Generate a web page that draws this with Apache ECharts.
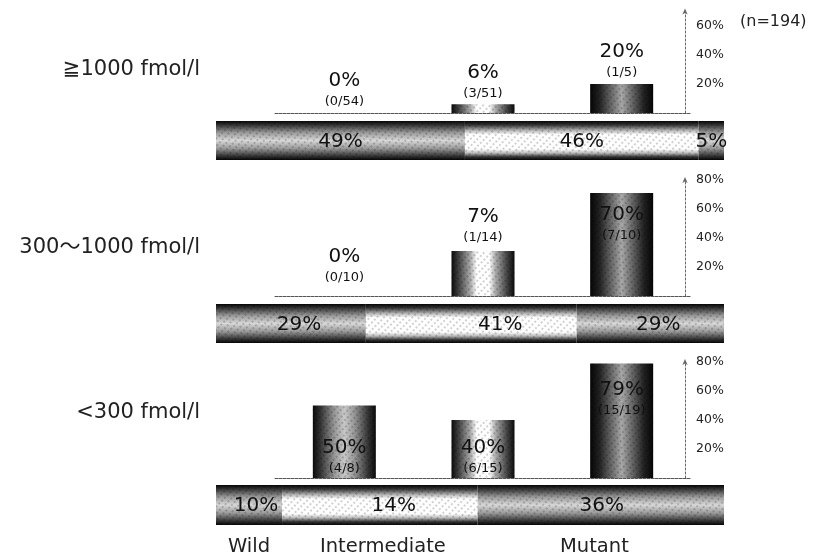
<!DOCTYPE html>
<html><head><meta charset="utf-8">
<script src="https://cdn.jsdelivr.net/npm/echarts@6/dist/echarts.min.js"></script>
<style>html,body{margin:0;padding:0;background:#fff}#c{width:815px;height:557px}</style>
</head><body><div id="c"></div>
<script>
// ---- data ----
const groups = ['≧1000 fmol/l', '300～1000 fmol/l', '<300 fmol/l'];
const genotypes = ['Wild', 'Intermediate', 'Mutant'];
// bar heights as drawn (% of patients)
const rateHeights = [[0, 6, 20], [0, 31, 71], [50, 40, 79]];
const rateLabels = [['0%', '6%', '20%'], ['0%', '7%', '70%'], ['50%', '40%', '79%']];
const fractionLabels = [['(0/54)', '(3/51)', '(1/5)'], ['(0/10)', '(1/14)', '(7/10)'], ['(4/8)', '(6/15)', '(15/19)']];
// distribution bars (widths as drawn) and their printed labels
const distWidths = [[49, 46, 5], [29.5, 41.5, 29], [13, 38.5, 48.5]];
const distLabels = [['49%', '46%', '5%'], ['29%', '41%', '29%'], ['10%', '14%', '36%']];
const axisMax = [70, 80, 80];
const sampleNote = '(n=194)';

// ---- layout / style ----
const FONT = '"DejaVu Sans", "Noto Sans CJK JP", sans-serif';
const barGrids = [{top: 11.5, height: 101.5}, {top: 180, height: 116}, {top: 362, height: 116}];
const distGrids = [{top: 121, height: 39}, {top: 304, height: 39}, {top: 485, height: 40}];
const groupLabelY = [70, 248, 413];
// label placement per panel / bar: [position, distance]
const labelPlace = [
  [['top', 2], ['top', 2], ['top', 2]],
  [['top', 9], ['top', 4], ['insideTop', 10]],
  [['insideBottom', 0], ['insideBottom', 0], ['insideTop', 14]]
];
const distLabelShift = [[0, 0, 0], [8, 29, 8], [7, 14, 1]];

function grad(x2, y2, stops) {
  return new echarts.graphic.LinearGradient(0, 0, x2, y2, stops.map(s => ({offset: s[0], color: s[1]})));
}
const barFillGrey = grad(1, 0, [[0, '#0a0a0a'], [0.12, '#333'], [0.35, '#9a9a9a'], [0.5, '#c8c8c8'], [0.65, '#9a9a9a'], [0.88, '#333'], [1, '#0a0a0a']]);
const barFillWhite = grad(1, 0, [[0, '#0a0a0a'], [0.12, '#444'], [0.3, '#aaa'], [0.4, '#fff'], [0.6, '#fff'], [0.7, '#aaa'], [0.88, '#444'], [1, '#0a0a0a']]);
const barFillDark = grad(1, 0, [[0, '#050505'], [0.15, '#222'], [0.4, '#808080'], [0.5, '#a8a8a8'], [0.6, '#808080'], [0.85, '#222'], [1, '#050505']]);
const barFills = [barFillGrey, barFillWhite, barFillDark];
const distFillGrey = grad(0, 1, [[0, '#050505'], [0.1, '#333'], [0.3, '#9a9a9a'], [0.5, '#d8d8d8'], [0.7, '#9a9a9a'], [0.9, '#333'], [1, '#050505']]);
const distFillWhite = grad(0, 1, [[0, '#050505'], [0.1, '#333'], [0.25, '#bbb'], [0.35, '#fff'], [0.72, '#fff'], [0.82, '#bbb'], [0.92, '#333'], [1, '#050505']]);
const distFills = [distFillGrey, distFillWhite, distFillGrey];
const texture = {symbol: 'rect', symbolSize: 1, dashArrayX: [2, 3], dashArrayY: [2, 2], rotation: Math.PI / 4, color: 'rgba(0,0,0,0.18)'};

const grid = [], xAxis = [], yAxis = [], series = [];
for (let p = 0; p < 3; p++) {
  grid.push({left: 275, width: 416, top: barGrids[p].top, height: barGrids[p].height});
  const gi = grid.length - 1;
  xAxis.push({type: 'category', gridIndex: gi, data: genotypes, axisTick: {show: false}, axisLabel: {show: false},
    axisLine: {show: true, lineStyle: {color: '#555', type: [3, 1], width: 1}}});
  yAxis.push({type: 'value', gridIndex: gi, position: 'right', offset: -6, min: 0, max: axisMax[p], interval: 20,
    splitLine: {show: false}, axisTick: {show: false},
    axisLine: {show: true, symbol: ['none', 'arrow'], symbolSize: [4, 6], symbolOffset: [0, 3], lineStyle: {color: '#666', type: [2, 2], width: 1}},
    axisLabel: {margin: 11, fontFamily: FONT, fontSize: 12.5, color: '#222',
      formatter: v => (v > 0 && v % 20 === 0 ? v + '%' : '')}});
  series.push({type: 'bar', xAxisIndex: gi, yAxisIndex: gi, barWidth: 63, silent: true,
    data: rateHeights[p].map((v, i) => ({
      value: v,
      itemStyle: {color: barFills[i], decal: texture},
      label: {show: true, position: labelPlace[p][i][0], distance: labelPlace[p][i][1],
        formatter: '{p|' + rateLabels[p][i] + '}\n{f|' + fractionLabels[p][i] + '}',
        rich: {p: {fontFamily: FONT, fontSize: 20, color: '#111', lineHeight: 24, align: 'center'},
               f: {fontFamily: FONT, fontSize: 13, color: '#111', lineHeight: 18, align: 'center'}}}
    }))});
  grid.push({left: 216, width: 508, top: distGrids[p].top, height: distGrids[p].height});
  const di = grid.length - 1;
  xAxis.push({type: 'value', gridIndex: di, min: 0, max: 100, show: false});
  yAxis.push({type: 'category', gridIndex: di, data: [''], show: false});
  for (let s = 0; s < 3; s++) {
    series.push({type: 'bar', xAxisIndex: di, yAxisIndex: di, stack: 'd' + p, barWidth: '100%', silent: true,
      data: [distWidths[p][s]], itemStyle: {color: distFills[s], decal: texture},
      label: {show: true, position: 'inside', offset: [distLabelShift[p][s], 1], formatter: distLabels[p][s],
        fontFamily: FONT, fontSize: 20, color: '#111'}});
  }
}

const graphic = [];
groups.forEach((g, i) => graphic.push({type: 'text', x: 200, y: groupLabelY[i],
  style: {text: g, fontFamily: FONT, fontSize: 21, fill: '#222', align: 'right', verticalAlign: 'middle'}}));
const bottomX = [228, 320, 560];
genotypes.forEach((g, i) => graphic.push({type: 'text', x: bottomX[i], y: 547,
  style: {text: g, fontFamily: FONT, fontSize: 19.5, fill: '#222', verticalAlign: 'middle'}}));
graphic.push({type: 'text', x: 740, y: 22, style: {text: sampleNote, fontFamily: FONT, fontSize: 16, fill: '#222', verticalAlign: 'middle'}});

const chart = echarts.init(document.getElementById('c'), null, {renderer: 'canvas'});
chart.setOption({animation: false, backgroundColor: '#fff', grid, xAxis, yAxis, series, graphic});
</script></body></html>
